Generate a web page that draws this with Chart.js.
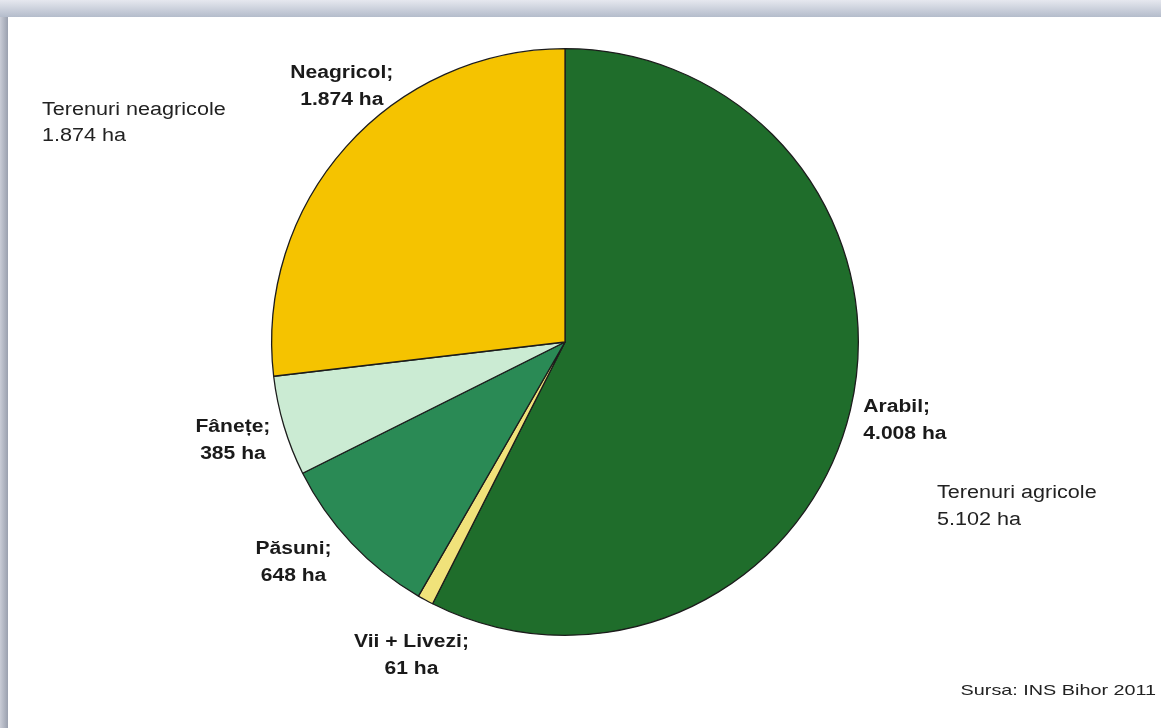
<!DOCTYPE html>
<html>
<head>
<meta charset="utf-8">
<script src="https://cdn.jsdelivr.net/npm/chart.js@4.4.0/dist/chart.umd.min.js"></script>
<style>
  html, body { margin: 0; padding: 0; }
  body { width: 1161px; height: 728px; background: #fff; position: relative; overflow: hidden; font-family: "Liberation Sans", Arial, sans-serif; }
  #topband { position: absolute; left: 0; top: 0; width: 1161px; height: 17px; background: linear-gradient(#e6e8ef, #b4bccb); }
  #leftband { position: absolute; left: 0; top: 17px; width: 8px; height: 711px; background: linear-gradient(90deg, #c9ccd6, #9aa0ae); }
  #wrap { position: absolute; left: 0; top: 0; width: 1161px; height: 728px; }
  .note { position: absolute; font-size: 18px; color: #222; line-height: 26px; transform: scaleX(1.2); transform-origin: left top; white-space: nowrap; }
  #src { position: absolute; right: 5px; top: 681px; font-size: 15px; color: #222; transform: scaleX(1.32); transform-origin: right top; white-space: nowrap; }
</style>
</head>
<body>
<div id="topband"></div>
<div id="leftband"></div>
<div id="wrap"><canvas id="pie"></canvas></div>
<div class="note" style="left:42px; top:96px;">Terenuri neagricole<br>1.874 ha</div>
<div class="note" style="left:937px; top:479px; line-height:27px;">Terenuri agricole<br>5.102 ha</div>
<div id="src">Sursa: INS Bihor 2011</div>
<script>
const categorii = ["Arabil", "Vii + Livezi", "Păsuni", "Fânețe", "Neagricol"];
const suprafete = [4008, 61, 648, 385, 1874];
const etichete = ["4.008 ha", "61 ha", "648 ha", "385 ha", "1.874 ha"];
const culori = ["#1f6d2b", "#f0e27a", "#2a8a55", "#cbebd3", "#f5c300"];

// nudge of each label from the slice's outer mid point
const deplasari = [[13, 11, "left"], [-14, 56, "center"], [-58, 20, "center"], [-51, 15, "center"], [-4, -60, "center"]];

const eticheteExterioare = {
  id: "eticheteExterioare",
  afterDatasetsDraw(chart) {
    const ctx = chart.ctx;
    const meta = chart.getDatasetMeta(0);
    ctx.save();
    ctx.font = "bold 18px 'Liberation Sans', Arial, sans-serif";
    ctx.fillStyle = "#1a1a1a";
    ctx.textBaseline = "middle";
    meta.data.forEach((arc, i) => {
      const p = arc.getProps(["x", "y", "startAngle", "endAngle", "outerRadius"], true);
      const a = (p.startAngle + p.endAngle) / 2;
      const x = p.x + Math.cos(a) * p.outerRadius + deplasari[i][0];
      const y = p.y + Math.sin(a) * p.outerRadius + deplasari[i][1];
      ctx.save();
      ctx.translate(x, y);
      ctx.scale(1.17, 1);
      ctx.textAlign = deplasari[i][2];
      ctx.fillText(categorii[i] + ";", 0, -14);
      ctx.fillText(etichete[i], 0, 13);
      ctx.restore();
    });
    ctx.restore();
  },
};

new Chart(document.getElementById("pie"), {
  type: "pie",
  data: {
    labels: categorii,
    datasets: [
      {
        data: suprafete,
        backgroundColor: culori,
        borderColor: "#1c1c1c",
        borderWidth: 1.3,
      },
    ],
  },
  options: {
    responsive: true,
    maintainAspectRatio: false,
    animation: false,
    layout: { padding: { left: 271, right: 302, top: 48, bottom: 92 } },
    plugins: {
      legend: { display: false },
      tooltip: { enabled: false },
    },
  },
  plugins: [eticheteExterioare],
});
</script>
</body>
</html>
